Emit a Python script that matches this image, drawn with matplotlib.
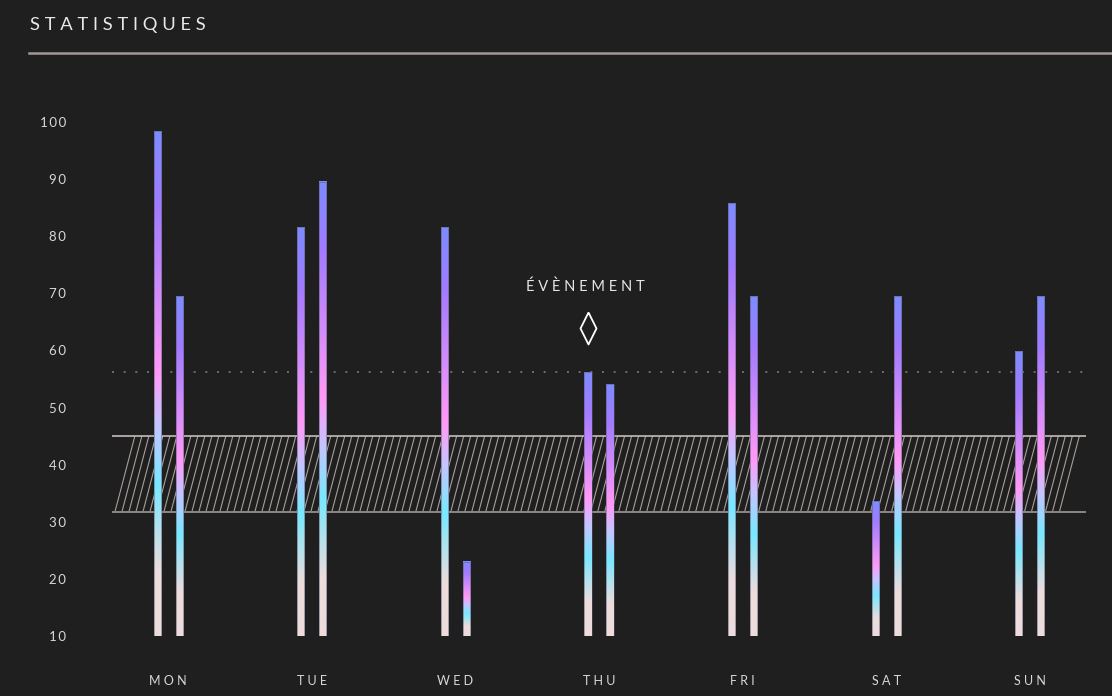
import numpy as np
import matplotlib
matplotlib.use("Agg")
import matplotlib.pyplot as plt
from matplotlib.colors import LinearSegmentedColormap
from matplotlib.collections import LineCollection
from matplotlib.patches import Rectangle

# data
days = ["MON", "TUE", "WED", "THU", "FRI", "SAT", "SUN"]
series_a = [98.4, 81.6, 81.6, 56.2, 85.8, 33.6, 59.9]
series_b = [69.5, 89.5, 23.0, 54.1, 69.5, 69.5, 69.5]
y_ticks = [10, 20, 30, 40, 50, 60, 70, 80, 90, 100]
band_low, band_high = 31.7, 45.0
threshold = 56.2
event_day, event_value = 3, 64.0
event_label = "ÉVÈNEMENT"

BG = "#1f1f1f"
FONT = ["Lato", "DejaVu Sans"]
plt.rcParams["font.family"] = FONT

bar_cmap = LinearSegmentedColormap.from_list("bars", [
    (0.00, "#7d8cff"),
    (0.15, "#a27bff"),
    (0.48, "#ff9af6"),
    (0.58, "#c6c4ff"),
    (0.70, "#78e8ff"),
    (0.87, "#ecdcdc"),
    (1.00, "#eedcdc"),
])


def spaced(s, sep="\u2009"):
    return sep.join(s)


fig = plt.figure(figsize=(11.12, 6.96), dpi=100, facecolor=BG)
W, H = 1112, 696
ax = fig.add_axes([112 / W, (H - 636) / H, 974 / W, 514 / H])
ax.set_facecolor(BG)
for s in ax.spines.values():
    s.set_visible(False)

bar_w = 0.049
offset = 0.0766
grad = np.linspace(0, 1, 256).reshape(-1, 1)
x = np.arange(len(days))
for xs, vals in ((x - offset, series_a), (x + offset, series_b)):
    for xi, v in zip(xs, vals):
        ax.imshow(grad, cmap=bar_cmap, extent=[xi - bar_w / 2, xi + bar_w / 2, 10, v],
                  origin="upper", aspect="auto", zorder=3, interpolation="bilinear")
        ax.add_patch(Rectangle((xi - bar_w / 2, 10), bar_w, v - 10, fill=False,
                               edgecolor=(0.35, 0.35, 0.45, 0.6), lw=0.6, zorder=4))

# hatched band
x0, x1 = -0.39, 6.39
slant = 0.139
starts = np.arange(x0 + 0.02, x1 - slant - 0.03, 0.0487)
segs = [[(s, band_low), (s + slant, band_high)] for s in starts]
ax.add_collection(LineCollection(segs, colors="#a79e9a", linewidths=0.8, zorder=2))
ax.plot([x0, x1], [band_high, band_high], color="#c4bcb8", lw=1.2, zorder=2)
ax.plot([x0, x1], [band_low, band_low], color="#8e8683", lw=1.4, zorder=2)

# dotted threshold
ax.plot([x0, x1], [threshold, threshold], color="#6e6e6e", lw=1.4,
        linestyle=(0, (1, 5)), zorder=1)

# event marker (narrow diamond)
diamond = [(0, 1), (0.5, 0), (0, -1), (-0.5, 0), (0, 1)]
ax.plot([event_day - offset], [event_value], marker=diamond, markersize=23,
        markerfacecolor="none", markeredgecolor="white", markeredgewidth=1.3,
        zorder=5, clip_on=False)
ax.text(event_day - offset - 0.015, event_value + 7.1, spaced(event_label, " "),
        color="#e6e6e6", fontsize=10.5, ha="center", va="center", family=FONT)

ax.set_xlim(x0, x1)
ax.set_ylim(10, 100)
ax.set_yticks(y_ticks)
ax.set_yticklabels([spaced(str(t)) for t in y_ticks])
ax.set_xticks(x)
ax.set_xticklabels([spaced(d, " ") for d in days])
ax.tick_params(axis="y", length=0, pad=33, colors="#d8d8d8", labelsize=9.5)
ax.tick_params(axis="x", length=0, pad=28, colors="#d8d8d8", labelsize=9)

# header
fig.text(30 / W, 1 - 25 / H, spaced("STATISTIQUES", " "), color="#e8e8e8",
         fontsize=13.2, ha="left", va="center", family=FONT)
fig.add_artist(plt.Line2D([29 / W, 1.0], [1 - 53 / H, 1 - 53 / H],
                          color="#a39894", lw=1.8))

fig.savefig("out.png", dpi=100, facecolor=BG)
